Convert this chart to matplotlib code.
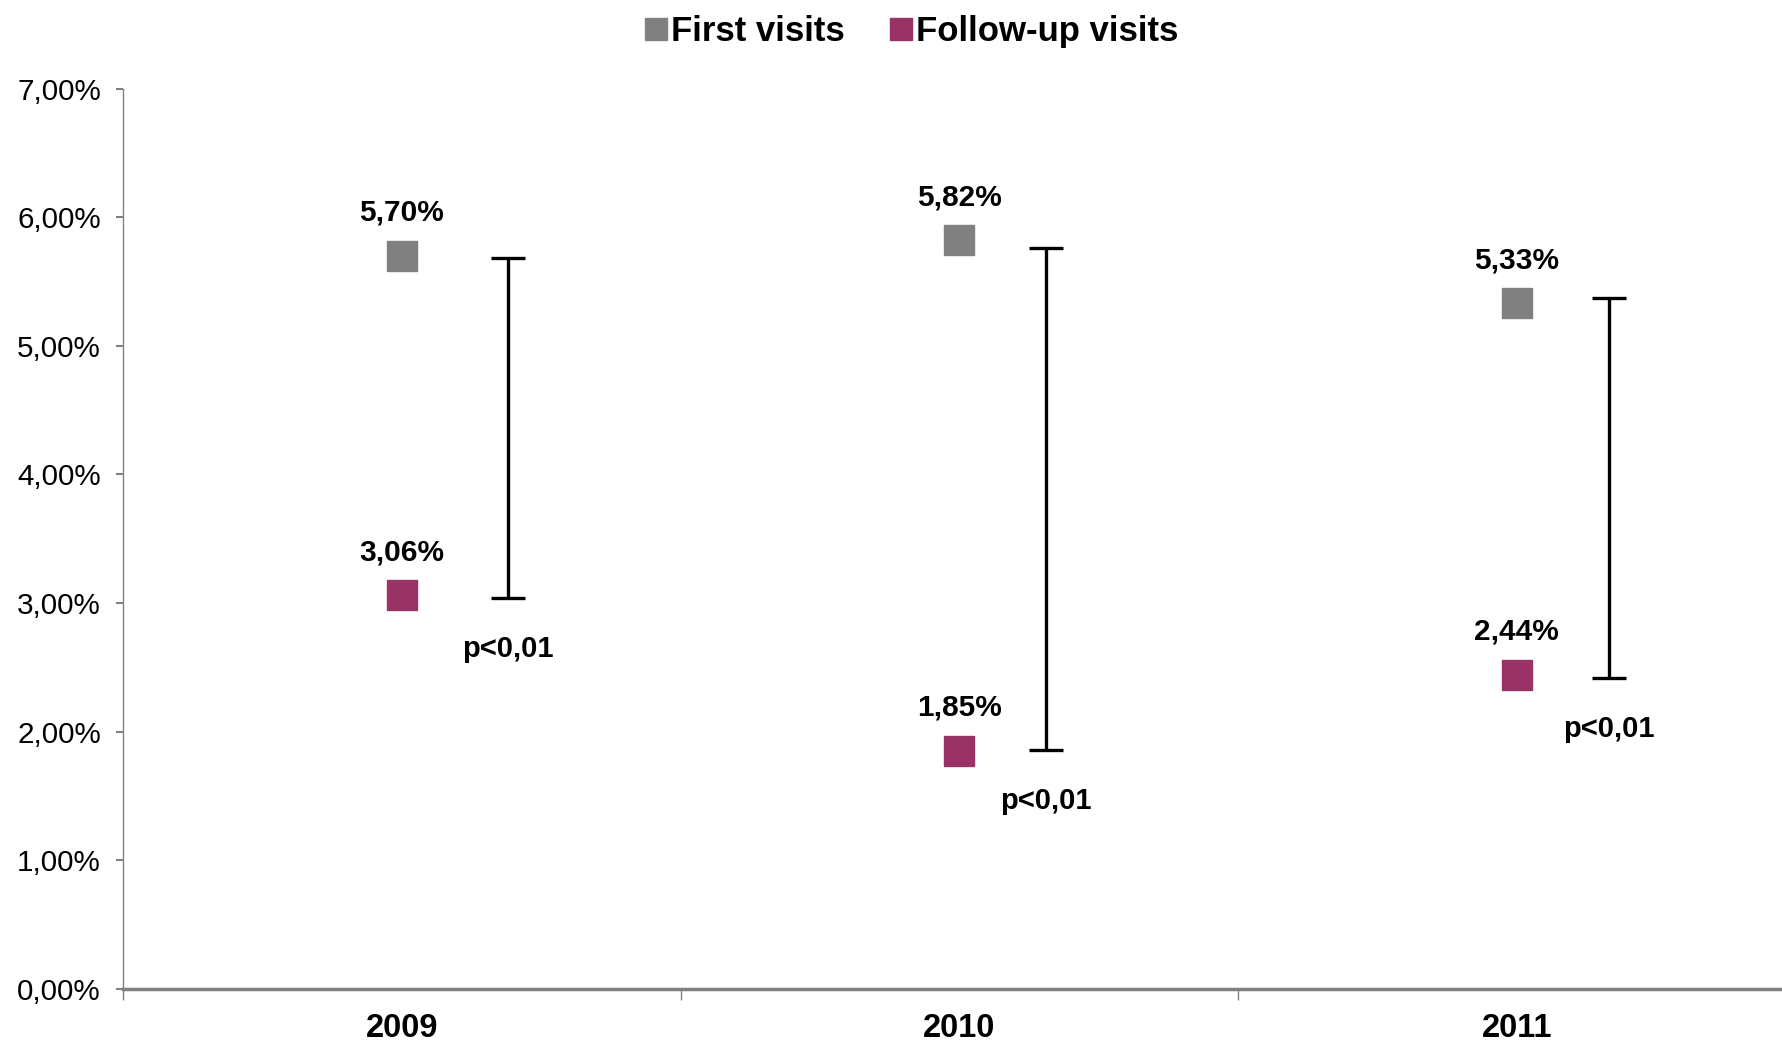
import matplotlib
matplotlib.use("Agg")
import matplotlib.pyplot as plt
from matplotlib.ticker import FuncFormatter, FixedLocator
from matplotlib.lines import Line2D

plt.rcParams['font.family'] = ['Liberation Sans', 'DejaVu Sans']

years = ["2009", "2010", "2011"]
first_visits = [5.70, 5.82, 5.33]
followup_visits = [3.06, 1.85, 2.44]
bracket_top = [5.68, 5.76, 5.37]
bracket_bottom = [3.04, 1.86, 2.42]
p_labels = ["p<0,01", "p<0,01", "p<0,01"]
bracket_offset = [0.19, 0.155, 0.165]

c_first = "#808080"
c_follow = "#993366"

fig = plt.figure(figsize=(17.83, 10.44), dpi=100)
ax = fig.add_axes([0.069, 0.0527, 0.938, 0.8625])

x = list(range(len(years)))
ax.plot(x, first_visits, linestyle='none', marker='s', markersize=22, color=c_first, zorder=3, clip_on=False)
ax.plot(x, followup_visits, linestyle='none', marker='s', markersize=22, color=c_follow, zorder=3, clip_on=False)

def fmt(v):
    return f"{v:.2f}".replace('.', ',') + "%"

for xi, v in zip(x, first_visits):
    ax.annotate(fmt(v), (xi, v), xytext=(0, 21), textcoords='offset points',
                ha='center', va='bottom', fontsize=21.5, fontweight='bold')
for xi, v in zip(x, followup_visits):
    ax.annotate(fmt(v), (xi, v), xytext=(0, 21), textcoords='offset points',
                ha='center', va='bottom', fontsize=21.5, fontweight='bold')

for xi, off, top, bot, lab in zip(x, bracket_offset, bracket_top, bracket_bottom, p_labels):
    bx = xi + off
    mid = (top + bot) / 2
    ax.errorbar([bx], [mid], yerr=[[mid - bot], [top - mid]], fmt='none',
                ecolor='black', elinewidth=2.4, capsize=12, capthick=2.4, zorder=2)
    ax.annotate(lab, (bx, bot), xytext=(0, -27), textcoords='offset points',
                ha='center', va='top', fontsize=21, fontweight='bold')

ax.set_xlim(-0.5, 2.5)
ax.set_ylim(0, 7)
ax.set_yticks([0, 1, 2, 3, 4, 5, 6, 7])
ax.yaxis.set_major_formatter(FuncFormatter(lambda v, p: f"{v:.2f}".replace('.', ',') + "%"))
ax.set_xticks(x)
ax.set_xticklabels(years, fontsize=23.5, fontweight='bold')
ax.xaxis.set_minor_locator(FixedLocator([-0.5, 0.5, 1.5, 2.5]))
ax.tick_params(axis='x', which='major', length=0, pad=17)
ax.tick_params(axis='x', which='minor', length=8, color='#808080', width=1)
ax.tick_params(axis='y', which='major', length=5, color='#808080', width=1.5, labelsize=21.3, pad=11)

for s in ['top', 'right']:
    ax.spines[s].set_visible(False)
ax.spines['left'].set_color('#808080')
ax.spines['left'].set_linewidth(1)
ax.spines['bottom'].set_color('#808080')
ax.spines['bottom'].set_linewidth(2.5)

handles = [
    Line2D([], [], linestyle='none', marker='s', markersize=16, color=c_first, label='First visits'),
    Line2D([], [], linestyle='none', marker='s', markersize=16, color=c_follow, label='Follow-up visits'),
]
fig.legend(handles=handles, loc='center', bbox_to_anchor=(0.5115, 0.970), ncol=2, frameon=False,
           prop={'size': 25, 'weight': 'bold'}, handlelength=0.6, handletextpad=0.15, columnspacing=1.3)

fig.savefig("out.png", dpi=100)
